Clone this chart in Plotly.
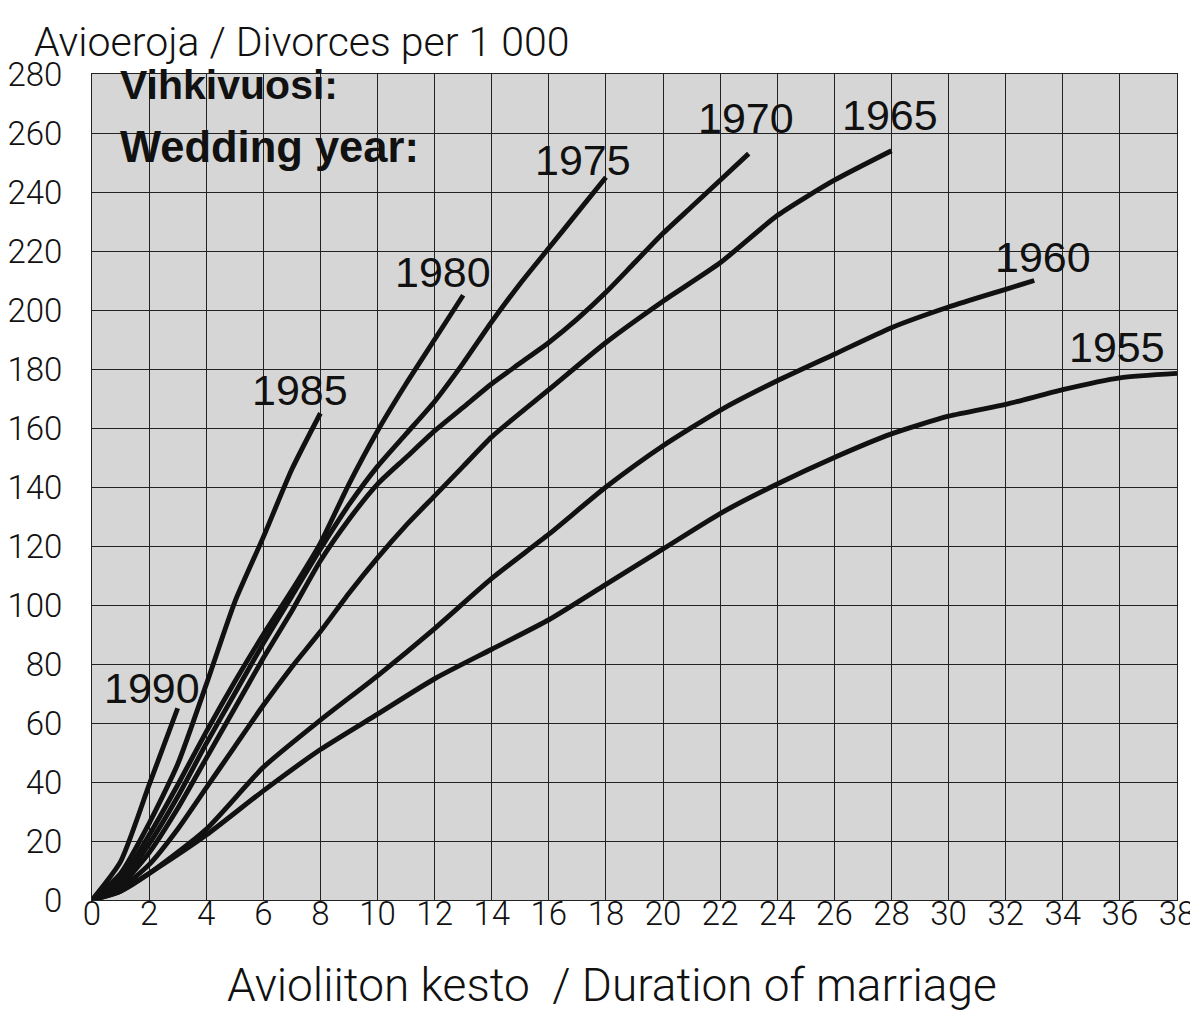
import plotly.graph_objects as go

# ---- data (duration of marriage in years -> cumulative divorces per 1000) ----
dur_1955 = [0, 1, 2, 4, 6, 8, 10, 12, 14, 16, 18, 20, 22, 24, 26, 28, 30, 32, 34, 36, 38]
div_1955 = [0, 3, 9, 22, 37, 51, 63, 75, 85, 95, 107, 119, 131, 141, 150, 158, 164, 168, 173, 177, 178.5]

dur_1960 = [0, 1, 2, 4, 6, 8, 10, 12, 14, 16, 18, 20, 22, 24, 26, 28, 30, 32, 33]
div_1960 = [0, 3, 9, 24, 45, 61, 76, 92, 109, 124, 140, 154, 166, 176, 185, 194, 201, 207, 210]

dur_1965 = [0, 1, 2, 3, 4, 5, 6, 7, 8, 9, 10, 11, 12, 13, 14, 16, 18, 20, 22, 24, 26, 28]
div_1965 = [0, 4, 12, 24, 38, 52, 66, 79, 91, 104, 116, 127, 137, 147, 157, 173, 189, 203, 216, 232, 244, 254]

dur_1970 = list(range(0, 24))
div_1970 = [0, 5, 16, 31, 48, 65, 82, 98, 115, 129, 141, 150, 159, 167, 175, 182, 189, 197, 206, 216, 226, 235, 244, 253]

dur_1975 = list(range(0, 19))
div_1975 = [0, 6, 19, 35, 53, 70, 87, 103, 119, 134, 147, 158, 169, 182, 196, 209, 221, 233, 245]

dur_1980 = list(range(0, 14))
div_1980 = [0, 7, 22, 39, 57, 74, 90, 105, 121, 141, 159, 175, 190, 205]

dur_1985 = list(range(0, 9))
div_1985 = [0, 9, 26, 46, 73, 101, 123, 146, 165]

dur_1990 = [0, 1, 2, 3]
div_1990 = [0, 13, 39, 65]

series = [
    ("1955", dur_1955, div_1955),
    ("1960", dur_1960, div_1960),
    ("1965", dur_1965, div_1965),
    ("1970", dur_1970, div_1970),
    ("1975", dur_1975, div_1975),
    ("1980", dur_1980, div_1980),
    ("1985", dur_1985, div_1985),
    ("1990", dur_1990, div_1990),
]

# label positions (data coords) for the wedding-year labels
label_pos = {
    "1990": (2.1, 72),
    "1985": (7.3, 173),
    "1980": (12.3, 213),
    "1975": (17.2, 251),
    "1970": (22.9, 265),
    "1965": (27.95, 266),
    "1960": (33.3, 218),
    "1955": (35.9, 187.5),
}

x_ticks = list(range(0, 39, 2))
y_ticks = list(range(0, 281, 20))

LIGHT = "Roboto"
REG = "Liberation Sans, Arial, sans-serif"

fig = go.Figure()
for name, xs, ys in series:
    fig.add_trace(go.Scatter(
        x=xs, y=ys, mode="lines", name=name,
        line=dict(color="#111111", width=4.9, shape="spline", smoothing=0.6),
        showlegend=False, hoverinfo="x+y+name",
    ))

for name, (lx, ly) in label_pos.items():
    fig.add_annotation(x=lx, y=ly, xref="x", yref="y", text=name, showarrow=False,
                       font=dict(family=REG, size=43, color="#111111"),
                       xanchor="center", yanchor="middle")

fig.add_annotation(x=0.9, y=276.3, xref="x", yref="y", text="<b>Vihkivuosi:</b>",
                   showarrow=False, xanchor="left", yanchor="middle",
                   font=dict(family=REG, size=41, color="#111111"))
fig.add_annotation(x=0.9, y=255.3, xref="x", yref="y", text="<b>Wedding year:</b>",
                   showarrow=False, xanchor="left", yanchor="middle",
                   font=dict(family=REG, size=43.5, color="#111111"))

fig.add_annotation(x=-60 / 1085, y=(900 - 42) / 826, xref="paper", yref="paper",
                   text="Avioeroja / Divorces per 1 000", showarrow=False,
                   xanchor="left", yanchor="middle",
                   font=dict(family=LIGHT, size=41, weight=300, color="#111111"))
fig.add_annotation(x=(612 - 92) / 1085, y=(900 - 985) / 826, xref="paper", yref="paper",
                   text="Avioliiton kesto  / Duration of marriage", showarrow=False,
                   xanchor="center", yanchor="middle",
                   font=dict(family=LIGHT, size=46, weight=300, color="#111111"))

# page body has an 8px margin: the figure is shifted accordingly
fig.update_layout(
    width=1198, height=1017,
    margin=dict(l=84, r=29, t=66, b=125, autoexpand=False),
    paper_bgcolor="white",
    plot_bgcolor="#d6d6d6",
    xaxis=dict(range=[0, 38], tickvals=x_ticks, ticktext=[str(v) for v in x_ticks],
               automargin=False,
               showgrid=True, gridcolor="#222222", gridwidth=1.2, zeroline=False,
               showline=True, linecolor="#222222", linewidth=1.2, mirror=True,
               ticks="", ticklabelstandoff=-16,
               tickfont=dict(family=LIGHT, size=33, weight=300, color="#111111")),
    yaxis=dict(range=[0, 280], tickvals=y_ticks, ticktext=[str(v) for v in y_ticks],
               automargin=False,
               showgrid=True, gridcolor="#222222", gridwidth=1.2, zeroline=False,
               showline=True, linecolor="#222222", linewidth=1.2, mirror=True,
               ticks="", ticklabelstandoff=22,
               tickfont=dict(family=LIGHT, size=33, weight=300, color="#111111")),
)

fig.write_html("out.html")
